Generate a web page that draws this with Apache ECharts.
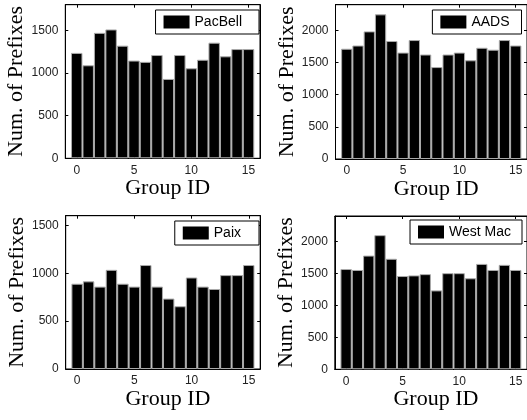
<!DOCTYPE html>
<html>
<head>
<meta charset="utf-8">
<script src="https://cdn.jsdelivr.net/npm/echarts@6/dist/echarts.min.js"></script>
<style>
  html, body { margin: 0; padding: 0; background: #fff; }
  #main { width: 527px; height: 420px; }
</style>
</head>
<body>
<div id="main"></div>
<script>
// group ids on the x axis
const groupIds = [0, 1, 2, 3, 4, 5, 6, 7, 8, 9, 10, 11, 12, 13, 14, 15];
// number of prefixes per group, one list per site
const pacBell = [1235, 1090, 1470, 1510, 1320, 1145, 1130, 1210, 930, 1210, 1055, 1155, 1355, 1195, 1280, 1280];
const aads = [1715, 1765, 1985, 2250, 1835, 1655, 1850, 1625, 1430, 1625, 1655, 1535, 1730, 1700, 1850, 1765];
const paix = [890, 915, 860, 1035, 890, 860, 1085, 860, 735, 655, 955, 860, 835, 980, 980, 1085];
const westMac = [1570, 1555, 1780, 2100, 1730, 1460, 1470, 1490, 1235, 1505, 1505, 1425, 1650, 1555, 1635, 1555];
// tick labels
const xTicks = [0, 5, 10, 15];
const yTicksLow = [0, 500, 1000, 1500];
const yTicksHigh = [0, 500, 1000, 1500, 2000];

const panels = [
  { name: 'PacBell', values: pacBell, yMax: 1800, yTicks: yTicksLow,
    grid: { left: 65.3, top: 4.7, width: 194.7, height: 153.6 }, legend: { right: 268, top: 10, pad: 17 } },
  { name: 'AADS', values: aads, yMax: 2400, yTicks: yTicksHigh,
    grid: { left: 335.5, top: 4.7, width: 194.7, height: 154.3 }, legend: { right: 5.5, top: 10, pad: 12 } },
  { name: 'Paix', values: paix, yMax: 1600, yTicks: yTicksLow,
    grid: { left: 65.7, top: 215.7, width: 194.5, height: 153.3 }, legend: { right: 268, top: 221, pad: 18 } },
  { name: 'West Mac', values: westMac, yMax: 2400, yTicks: yTicksHigh,
    grid: { left: 334.8, top: 216, width: 195.2, height: 153.3 }, legend: { right: 5, top: 220, pad: 11 } }
];

const tickFont = { fontFamily: 'Liberation Sans', fontSize: 12, color: '#222' };
const titleFont = { fontFamily: 'Liberation Serif', fontSize: 22, color: '#000' };
const black = { color: '#000', width: 1 };
const plain = function (v) { return String(v); };

const grid = [], xAxis = [], yAxis = [], legend = [], series = [];

panels.forEach(function (p, i) {
  grid.push(Object.assign({ show: true, borderColor: '#000', borderWidth: 1, containLabel: false }, p.grid));

  // bottom axis with labels, top axis only for mirrored ticks
  xAxis.push({
    type: 'value', gridIndex: i, min: -1, max: 16, position: 'bottom',
    axisLine: { show: true, onZero: false, lineStyle: black },
    axisTick: { show: true, inside: true, length: 3, customValues: xTicks, lineStyle: black },
    axisLabel: Object.assign({ customValues: xTicks, margin: 6, formatter: plain }, tickFont),
    splitLine: { show: false },
    name: 'Group ID', nameLocation: 'middle', nameGap: 19,
    nameTextStyle: Object.assign({ padding: [0, 0, 0, 10] }, titleFont)
  });
  xAxis.push({
    type: 'value', gridIndex: i, min: -1, max: 16, position: 'top',
    axisLine: { show: true, onZero: false, lineStyle: black },
    axisTick: { show: true, inside: true, length: 3, customValues: xTicks, lineStyle: black },
    axisLabel: { show: false },
    splitLine: { show: false }
  });

  yAxis.push({
    type: 'value', gridIndex: i, min: 0, max: p.yMax, position: 'left',
    axisLine: { show: true, onZero: false, lineStyle: black },
    axisTick: { show: true, inside: true, length: 3, customValues: p.yTicks, lineStyle: black },
    axisLabel: Object.assign({ customValues: p.yTicks, margin: 7, formatter: plain }, tickFont),
    splitLine: { show: false },
    name: 'Num. of Prefixes', nameLocation: 'middle', nameGap: 29,
    nameTextStyle: titleFont
  });
  yAxis.push({
    type: 'value', gridIndex: i, min: 0, max: p.yMax, position: 'right',
    axisLine: { show: true, onZero: false, lineStyle: black },
    axisTick: { show: true, inside: true, length: 3, customValues: p.yTicks, lineStyle: black },
    axisLabel: { show: false },
    splitLine: { show: false }
  });

  legend.push({
    data: [p.name], right: p.legend.right, top: p.legend.top,
    itemWidth: 26, itemHeight: 13, padding: [5, p.legend.pad, 5, 8],
    borderColor: '#000', borderWidth: 1, borderRadius: 0, backgroundColor: '#fff',
    selectedMode: false, icon: 'rect',
    itemStyle: { borderWidth: 0 },
    textStyle: { fontFamily: 'Liberation Sans', fontSize: 14, color: '#000' }
  });

  series.push({
    type: 'bar', name: p.name, xAxisIndex: 2 * i, yAxisIndex: 2 * i,
    data: groupIds.map(function (g, k) { return [g, p.values[k]]; }),
    barWidth: '100%',
    itemStyle: { color: '#000', borderColor: '#aaa', borderWidth: 1 }
  });
});

const myChart = echarts.init(document.getElementById('main'));
myChart.setOption({
  animation: false,
  backgroundColor: '#fff',
  grid: grid,
  xAxis: xAxis,
  yAxis: yAxis,
  legend: legend,
  series: series
});
</script>
</body>
</html>
